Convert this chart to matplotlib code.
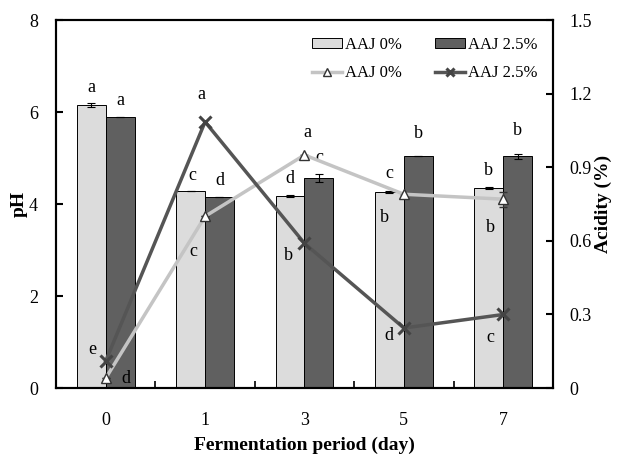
import matplotlib
matplotlib.use("Agg")
import matplotlib.pyplot as plt
import numpy as np

plt.rcParams['font.family'] = ['Liberation Serif', 'DejaVu Serif']

# data
days = ['0', '1', '3', '5', '7']
ph_0 = [6.15, 4.28, 4.17, 4.26, 4.35]
ph_0_err = [0.04, 0.0, 0.02, 0.03, 0.03]
ph_25 = [5.89, 4.15, 4.57, 5.04, 5.04]
ph_25_err = [0.0, 0.0, 0.08, 0.0, 0.05]
acid_0 = [0.04, 0.70, 0.95, 0.79, 0.77]
acid_0_err = [0.0, 0.0, 0.0, 0.0, 0.03]
acid_25 = [0.11, 1.085, 0.59, 0.245, 0.30]

ph_0_letters = ['a', 'c', 'd', 'c', 'b']
ph_25_letters = ['a', 'd', 'c', 'b', 'b']
acid_0_letters = ['d', 'c', 'a', 'b', 'b']
acid_25_letters = ['e', 'a', 'b', 'd', 'c']

# label offsets in pixels (dx, dy)
ph_0_off = [(0, 16), (2, 16), (0, 17), (0, 17), (0, 16)]
ph_25_off = [(0, 17), (0, 17), (0, 17), (0, 23), (0, 23)]
acid_0_off = [(20, 0), (-12, -35), (3, 22), (-19, -23), (-13, -28)]
acid_25_off = [(-13, 12), (-4, 27), (-16, -12), (-15, -8), (-13, -23)]

light_bar = '#dcdcdc'
dark_bar = '#606060'
light_line = '#c4c4c4'
dark_line = '#555555'

fig = plt.figure(figsize=(6.22, 4.55), dpi=100)
ax = fig.add_axes([0.090, 0.147, 0.799, 0.809])
ax2 = ax.twinx()

x = np.arange(len(days))
w = 0.29
b0 = ax.bar(x - w / 2, ph_0, w, color=light_bar, edgecolor='black', linewidth=0.7,
            yerr=ph_0_err, capsize=3, error_kw=dict(elinewidth=0.8, capthick=0.8), label='AAJ 0%')
b1 = ax.bar(x + w / 2, ph_25, w, color=dark_bar, edgecolor='black', linewidth=0.7,
            yerr=ph_25_err, capsize=3, error_kw=dict(elinewidth=0.8, capthick=0.8), label='AAJ 2.5%')

l0 = ax2.errorbar(x, acid_0, yerr=acid_0_err, color=light_line, lw=2.5, marker='^', ms=7,
                  mfc='white', mec='#333333', mew=1.0, ecolor='#333333', capsize=3,
                  elinewidth=0.8, label='AAJ 0%', zorder=3)
l1, = ax2.plot(x, acid_25, color=dark_line, lw=2.5, marker='x', ms=8, mew=2.2,
               mec='#444444', label='AAJ 2.5%', zorder=4)

ax.set_xlim(-0.5, len(days) - 0.5)
ax.set_ylim(0, 8)
ax2.set_ylim(0, 1.5)
ax.set_yticks([0, 2, 4, 6, 8])
ax2.set_yticks([0, 0.3, 0.6, 0.9, 1.2, 1.5])
ax2.set_yticklabels(['0', '0.3', '0.6', '0.9', '1.2', '1.5'])
ax.set_xticks(x)
ax.set_xticklabels(days)
ax.set_xticks(x[:-1] + 0.5, minor=True)

ax.tick_params(axis='x', which='major', length=0, pad=17, labelsize=13)
ax.tick_params(axis='x', which='minor', direction='in', length=5, width=1.2)
ax.tick_params(axis='y', direction='in', length=5, width=1.5, pad=13, labelsize=13)
ax2.tick_params(axis='y', direction='in', length=5, width=1.5, pad=12, labelsize=13)
for a in (ax, ax2):
    for s in a.spines.values():
        s.set_linewidth(1.5)

ax.set_xlabel('Fermentation period (day)', fontsize=14, fontweight='bold', labelpad=6)
ax.set_ylabel('pH', fontsize=14, fontweight='bold', labelpad=1)
ax2.set_ylabel('Acidity (%)', fontsize=14, fontweight='bold', labelpad=2)

# significance letters
def put(axis, xs, ys, letters, offs):
    for xi, yi, t, (dx, dy) in zip(xs, ys, letters, offs):
        axis.annotate(t, (xi, yi), xytext=(dx, dy), textcoords='offset pixels',
                      ha='center', va='center', fontsize=13, zorder=6)

put(ax, x - w / 2, np.array(ph_0) + np.array(ph_0_err), ph_0_letters, ph_0_off)
put(ax, x + w / 2, np.array(ph_25) + np.array(ph_25_err), ph_25_letters, ph_25_off)
put(ax2, x, acid_0, acid_0_letters, acid_0_off)
put(ax2, x, acid_25, acid_25_letters, acid_25_off)

ax2.legend([b0, l0[0], b1, l1], ['AAJ 0%', 'AAJ 0%', 'AAJ 2.5%', 'AAJ 2.5%'], ncol=2,
           frameon=False, fontsize=12, loc='upper right', bbox_to_anchor=(1.0, 0.995),
           handlelength=1.8, handleheight=0.6, handletextpad=0.2, columnspacing=2.0,
           labelspacing=0.75, markerscale=0.8)

fig.savefig('out.png', dpi=100)
